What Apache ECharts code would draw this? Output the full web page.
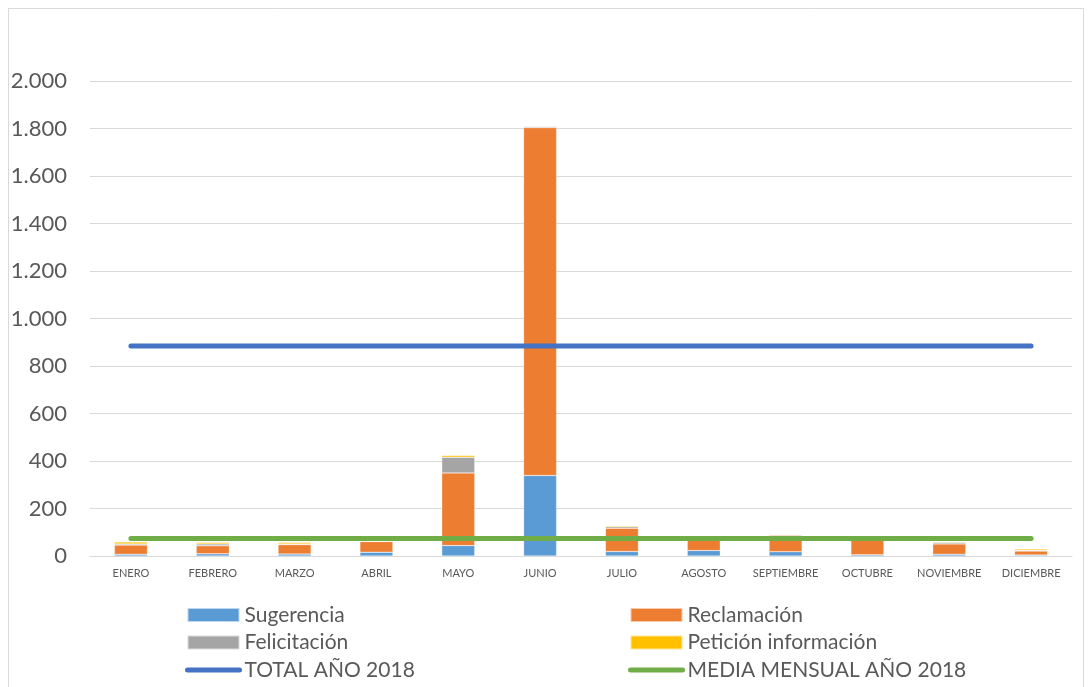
<!DOCTYPE html>
<html>
<head>
<meta charset="utf-8">
<title>Solicitudes por mes 2018</title>
<script src="https://cdn.jsdelivr.net/npm/echarts@6/dist/echarts.min.js"></script>
<style>
  html, body { margin: 0; padding: 0; background: #ffffff; }
  #chart { width: 1091px; height: 687px; }
</style>
</head>
<body>
<div id="chart"></div>
<script>
// Monthly categories
const meses = ['ENERO', 'FEBRERO', 'MARZO', 'ABRIL', 'MAYO', 'JUNIO', 'JULIO',
  'AGOSTO', 'SEPTIEMBRE', 'OCTUBRE', 'NOVIEMBRE', 'DICIEMBRE'];

// Stacked series, per month
const sugerencia   = [7, 9, 8, 16, 44, 339, 19, 23, 18, 5, 7, 4];
const reclamacion  = [39, 34, 40, 45, 306, 1465, 98, 62, 69, 70, 44, 17];
const felicitacion = [5, 8, 3, 1, 66, 4, 6, 2, 2, 1, 6, 3];
const peticion     = [8, 6, 6, 1, 7, 3, 4, 3, 3, 1, 3, 6];

// Reference lines for the year
const totalAnio = 884;
const mediaMensual = 74;

// Value axis ticks
const yMin = 0;
const yMax = 2000;
const yInterval = 200;

const totalLinea = meses.map(() => totalAnio);
const mediaLinea = meses.map(() => mediaMensual);

const textColor = '#595959';
const gridColor = '#d9d9d9';
const fontFamily = 'Lato, "Open Sans", sans-serif';

function miles(v) {
  return String(v).replace(/\B(?=(\d{3})+(?!\d))/g, '.');
}

const barBase = {
  type: 'bar',
  stack: 'total',
  barWidth: 33,
  itemStyle: { borderColor: 'rgba(255,255,255,0.6)', borderWidth: 0.5 }
};

// Shared look of the two legend columns
function columna(left, items) {
  return {
    orient: 'vertical',
    left: left,
    top: 603,
    padding: 0,
    itemWidth: 52,
    itemHeight: 14,
    itemGap: 3.5,
    textStyle: { color: textColor, fontSize: 21, lineHeight: 24, fontFamily: fontFamily },
    lineStyle: { width: 5, cap: 'round' },
    data: items
  };
}

const chart = echarts.init(document.getElementById('chart'), null, { renderer: 'canvas' });

chart.setOption({
  animation: false,
  textStyle: { fontFamily: fontFamily },
  graphic: [{
    type: 'rect',
    shape: { x: 8.5, y: 8.5, width: 1075, height: 700 },
    style: { fill: 'none', stroke: gridColor, lineWidth: 1 },
    silent: true,
    z: -10
  }],
  grid: { left: 90, right: 19, top: 81, bottom: 131, containLabel: false },
  legend: [
    columna(185, [
      { name: 'Sugerencia', icon: 'rect' },
      { name: 'Felicitación', icon: 'rect' },
      { name: 'TOTAL AÑO 2018', itemStyle: { opacity: 0 } }
    ]),
    columna(628, [
      { name: 'Reclamación', icon: 'rect' },
      { name: 'Petición información', icon: 'rect' },
      { name: 'MEDIA MENSUAL AÑO 2018', itemStyle: { opacity: 0 } }
    ])
  ],
  xAxis: {
    type: 'category',
    data: meses,
    boundaryGap: true,
    axisLine: { show: true, lineStyle: { color: gridColor, width: 1 } },
    axisTick: { show: false },
    axisLabel: { color: textColor, fontSize: 11, margin: 12, interval: 0, fontFamily: fontFamily }
  },
  yAxis: {
    type: 'value',
    min: yMin,
    max: yMax,
    interval: yInterval,
    axisLine: { show: false },
    axisTick: { show: false },
    splitLine: { lineStyle: { color: gridColor, width: 1 } },
    axisLabel: {
      color: textColor,
      fontSize: 22,
      margin: 23,
      fontFamily: fontFamily,
      formatter: miles
    }
  },
  series: [
    Object.assign({}, barBase, { name: 'Sugerencia', data: sugerencia, color: '#5B9BD5' }),
    Object.assign({}, barBase, { name: 'Reclamación', data: reclamacion, color: '#ED7D31' }),
    Object.assign({}, barBase, { name: 'Felicitación', data: felicitacion, color: '#A5A5A5' }),
    Object.assign({}, barBase, { name: 'Petición información', data: peticion, color: '#FFC000' }),
    {
      name: 'TOTAL AÑO 2018',
      type: 'line',
      data: totalLinea,
      color: '#4472C4',
      symbol: 'none',
      z: 5,
      lineStyle: { width: 5, cap: 'round', color: '#4472C4' }
    },
    {
      name: 'MEDIA MENSUAL AÑO 2018',
      type: 'line',
      data: mediaLinea,
      color: '#70AD47',
      symbol: 'none',
      z: 5,
      lineStyle: { width: 5, cap: 'round', color: '#70AD47' }
    }
  ]
});
</script>
</body>
</html>
